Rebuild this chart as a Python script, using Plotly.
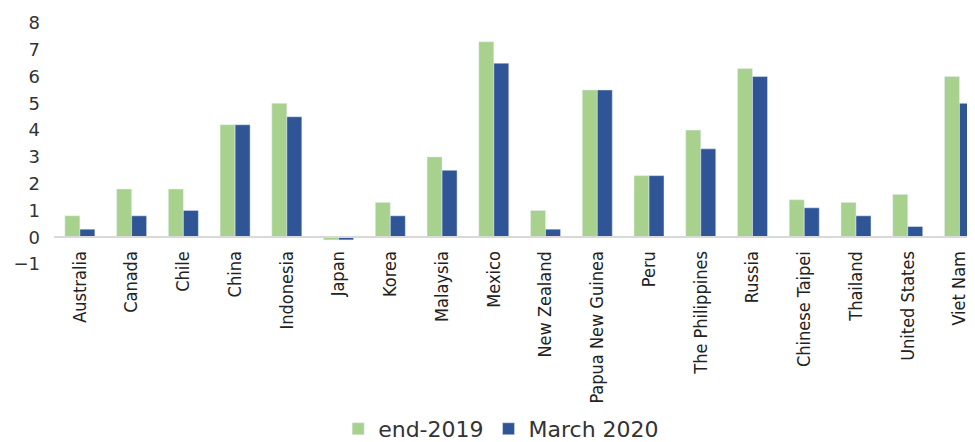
import plotly.graph_objects as go

categories = ["Australia", "Canada", "Chile", "China", "Indonesia", "Japan", "Korea",
              "Malaysia", "Mexico", "New Zealand", "Papua New Guinea", "Peru",
              "The Philippines", "Russia", "Chinese Taipei", "Thailand",
              "United States", "Viet Nam"]
end_2019 = [0.8, 1.8, 1.8, 4.2, 5.0, -0.1, 1.3, 3.0, 7.3, 1.0, 5.5, 2.3, 4.0, 6.3, 1.4, 1.3, 1.6, 6.0]
march_2020 = [0.3, 0.8, 1.0, 4.2, 4.5, -0.1, 0.8, 2.5, 6.5, 0.3, 5.5, 2.3, 3.3, 6.0, 1.1, 0.8, 0.4, 5.0]
y_ticks = [-1, 0, 1, 2, 3, 4, 5, 6, 7, 8]

fig = go.Figure()
fig.add_trace(go.Bar(x=categories, y=end_2019, name="end-2019", marker_color="#A9D18E"))
fig.add_trace(go.Bar(x=categories, y=march_2020, name="March 2020", marker_color="#2F5597"))

fig.update_layout(
    width=967, height=434,
    margin=dict(l=46, r=0, t=15, b=178),
    plot_bgcolor="white", paper_bgcolor="white",
    barmode="group", bargap=0.42, bargroupgap=0,
    showlegend=True,
    legend=dict(orientation="h", xref="container", yref="container",
                x=0.51, xanchor="center", y=0.03, yanchor="middle",
                bgcolor="rgba(0,0,0,0)",
                font=dict(family="DejaVu Sans", size=22, color="#333333"),
                itemwidth=30, traceorder="normal"),
    xaxis=dict(
        type="category", range=[-0.5, 17.3],
        anchor="free", position=1/9,
        showline=True, linecolor="#D9D9D9", linewidth=1.5,
        showgrid=False, zeroline=False,
        tickangle=-90, ticks="", ticklabelstandoff=6,
        tickfont=dict(family="DejaVu Sans Condensed, Liberation Sans",
                      size=18, color="#222222"),
        automargin=False,
    ),
    yaxis=dict(
        range=[-1, 8], tickvals=y_ticks,
        showgrid=False, zeroline=False, showline=False,
        ticks="", ticklabelstandoff=13,
        tickfont=dict(family="DejaVu Sans", size=18, color="#333333"),
        automargin=False,
    ),
)

fig.write_html("out.html")
